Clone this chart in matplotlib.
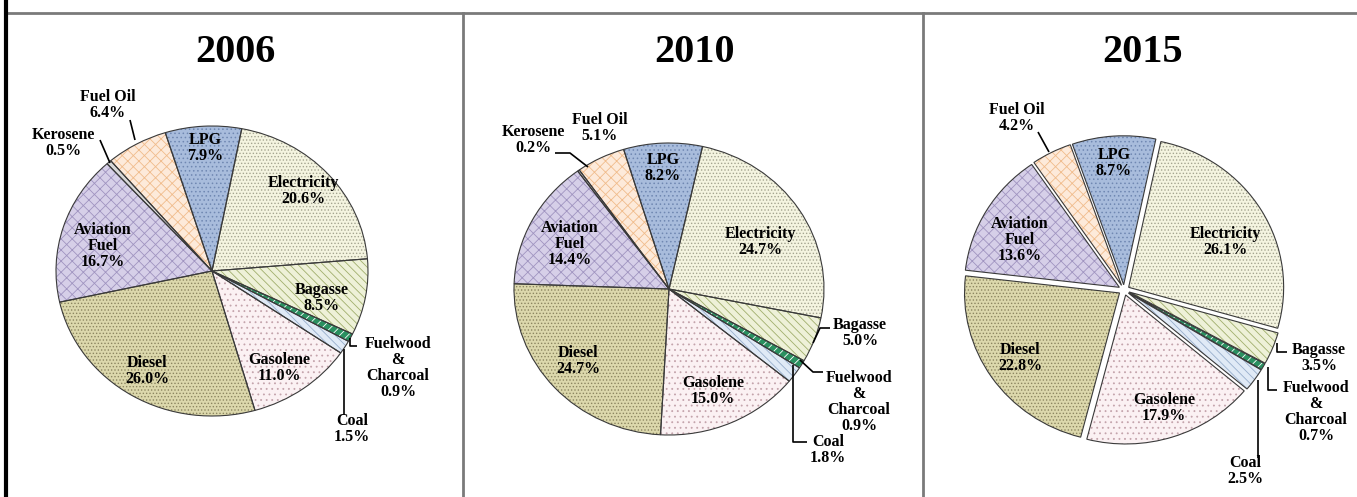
import matplotlib
matplotlib.use('Agg')
import matplotlib.pyplot as plt

W, H = 1357, 497

years = ['2006', '2010', '2015']
fuels = ['Electricity', 'Bagasse', 'Fuelwood\n&\nCharcoal', 'Coal', 'Gasolene',
         'Diesel', 'Aviation\nFuel', 'Kerosene', 'Fuel Oil', 'LPG']
share_2006 = [20.6, 8.5, 0.9, 1.5, 11.0, 26.0, 16.7, 0.5, 6.4, 7.9]
share_2010 = [24.7, 5.0, 0.9, 1.8, 15.0, 24.7, 14.4, 0.2, 5.1, 8.2]
share_2015 = [26.1, 3.5, 0.7, 2.5, 17.9, 22.8, 13.6, 0.0, 4.2, 8.7]
shares = [share_2006, share_2010, share_2015]

# face colour, hatch, hatch colour per fuel
styles = {
    'Electricity': ('#f4f4e0', '.....', '#a4a490'),
    'Bagasse': ('#eef1d8', '\\\\\\\\', '#a0ae6c'),
    'Fuelwood\n&\nCharcoal': ('#2a9060', '////', '#ffffff'),
    'Coal': ('#e0eaf6', '\\\\\\\\', '#98aecc'),
    'Gasolene': ('#fbf1f3', '...', '#c4a4ac'),
    'Diesel': ('#dcd8ac', '.....', '#8c8660'),
    'Aviation\nFuel': ('#d6cfe8', 'xxx', '#a094c0'),
    'Kerosene': ('#d8d8d8', '', '#888888'),
    'Fuel Oil': ('#fdeada', 'xxx', '#f0bc8c'),
    'LPG': ('#a8bcdc', '....', '#7088b2'),
}

# pie geometry in image pixels: centre, x/y radius, start angle, explode
geom = {
    '2006': dict(c=(212, 271), r=(156, 145), start=79, explode=0.0),
    '2010': dict(c=(669, 289), r=(155, 146), start=77.5, explode=0.0),
    '2015': dict(c=(1124, 290), r=(155, 149), start=78, explode=0.035),
}
title_pos = {'2006': (235, 52), '2010': (695, 52), '2015': (1143, 52)}

label_pos = {
    '2006': {'Electricity': (303, 191), 'Bagasse': (322, 298),
             'Fuelwood\n&\nCharcoal': (398, 368), 'Coal': (352, 429),
             'Gasolene': (279, 368), 'Diesel': (147, 371),
             'Aviation\nFuel': (103, 246), 'Kerosene': (63, 143),
             'Fuel Oil': (108, 105), 'LPG': (205, 148)},
    '2010': {'Electricity': (760, 242), 'Bagasse': (860, 333),
             'Fuelwood\n&\nCharcoal': (859, 402), 'Coal': (828, 450),
             'Gasolene': (713, 391), 'Diesel': (578, 361),
             'Aviation\nFuel': (570, 244), 'Kerosene': (533, 140),
             'Fuel Oil': (600, 128), 'LPG': (663, 168)},
    '2015': {'Electricity': (1225, 242), 'Bagasse': (1319, 358),
             'Fuelwood\n&\nCharcoal': (1316, 412), 'Coal': (1245, 471),
             'Gasolene': (1164, 408), 'Diesel': (1020, 358),
             'Aviation\nFuel': (1020, 240),
             'Fuel Oil': (1017, 118), 'LPG': (1114, 163)},
}

leaders = {
    '2006': [[(130, 120), (135, 140)], [(100, 140), (110, 163)],
             [(350, 338), (350, 346), (357, 346)], [(344, 349), (344, 415)]],
    '2010': [[(555, 153), (570, 153), (588, 167)],
             [(813, 343), (820, 328), (830, 328)],
             [(800, 360), (813, 372), (823, 372)],
             [(793, 365), (793, 442), (807, 442)]],
    '2015': [[(1038, 132), (1049, 152)],
             [(1277, 343), (1277, 352), (1287, 352)],
             [(1268, 367), (1268, 390), (1277, 390)],
             [(1258, 380), (1258, 458)]],
}

plt.rcParams['hatch.linewidth'] = 0.6
font = dict(family='Liberation Serif', fontweight='bold', color='black')

fig = plt.figure(figsize=(W / 100, H / 100), dpi=100)
fig.patch.set_facecolor('white')


def draw_pie(year, vals):
    g = geom[year]
    cx, cy = g['c']
    rx, ry = g['r']
    m = 1.12
    ax = fig.add_axes([(cx - m * rx) / W, (H - cy - m * ry) / H,
                       2 * m * rx / W, 2 * m * ry / H])
    names = [f for f, v in zip(fuels, vals) if v > 0]
    vv = [v for v in vals if v > 0]
    sty = [styles[n] for n in names]
    for layer in ('fill', 'hatch', 'edge'):
        wedges, _ = ax.pie(vv, startangle=g['start'], counterclock=False,
                           explode=[g['explode']] * len(vv))
        for w, s in zip(wedges, sty):
            if layer == 'fill':
                w.set(facecolor=s[0], edgecolor='none', linewidth=0)
            elif layer == 'hatch':
                w.set(facecolor='none', edgecolor=s[2], hatch=s[1], linewidth=0)
            else:
                w.set(facecolor='none', edgecolor='#3a3a3a', linewidth=0.8)
    ax.set_aspect('auto')
    ax.set_xlim(-m, m)
    ax.set_ylim(-m, m)
    ax.axis('off')
    return names, vv


pies = [draw_pie(y, s) for y, s in zip(years, shares)]

# overlay in pixel coordinates for text, leaders and frame lines
ov = fig.add_axes([0, 0, 1, 1])
ov.set_xlim(0, W)
ov.set_ylim(H, 0)
ov.axis('off')
ov.patch.set_alpha(0)

for year, (names, vv) in zip(years, pies):
    tx, ty = title_pos[year]
    ov.text(tx, ty, year, ha='center', va='center', fontsize=29, **font)
    for n, v in zip(names, vv):
        x, y = label_pos[year][n]
        ov.text(x, y, f'{n}\n{v:.1f}%', ha='center', va='center',
                fontsize=11.5, linespacing=1.0, **font)
    for seg in leaders[year]:
        xs, ys = zip(*seg)
        ov.plot(xs, ys, color='black', lw=1.2, solid_capstyle='butt')

# frame lines
ov.plot([6, W], [13, 13], color='#7a7a7a', lw=2)
ov.plot([6, 6], [0, H], color='black', lw=3)
ov.plot([463, 463], [13, H], color='#7a7a7a', lw=2)
ov.plot([923, 923], [13, H], color='#7a7a7a', lw=2)

fig.savefig('out.png', dpi=100)
